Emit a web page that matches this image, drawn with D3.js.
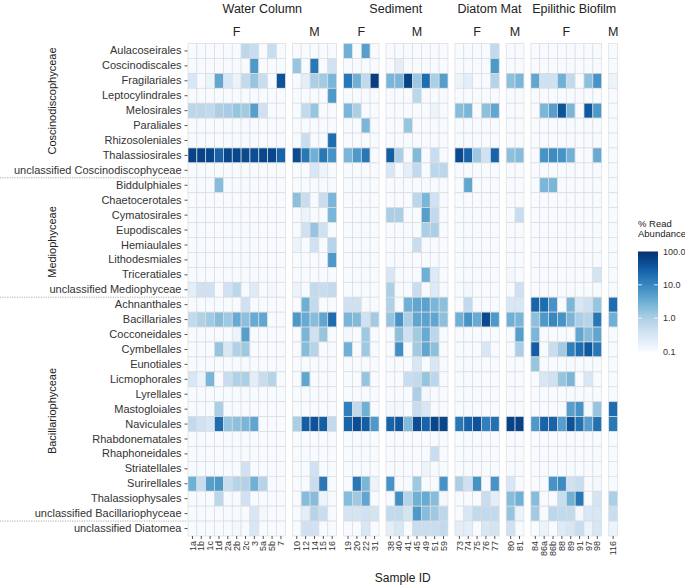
<!DOCTYPE html>
<html><head><meta charset="utf-8">
<script src="https://cdn.jsdelivr.net/npm/d3@7"></script>
<style>body{margin:0;background:#fff} text{font-family:"Liberation Sans",Arial,Helvetica,sans-serif}</style>
</head><body><svg id="c" width="685" height="588"></svg>
<script>
// ---------------- DATA ----------------
const panelHabitat = ["Water Column","Water Column","Sediment","Sediment","Diatom Mat","Diatom Mat","Epilithic Biofilm","Epilithic Biofilm"];
const panelSex = ["F","M","F","M","F","M","F","M"];
const panelSamples = [
  ["1a","1b","1c","1d","2a","2b","2c","3","5a","5b","7"],
  ["10","12","14","15","16"],
  ["19","20","22","31"],
  ["38","40","41","45","49","51","59"],
  ["73","74","75","76","77"],
  ["80","81"],
  ["84","86a","86b","88","89","91","97","98"],
  ["116"]
];
const classes = ["Coscinodiscophyceae","Mediophyceae","Bacillariophyceae"];
const orders = [
  "Aulacoseirales","Coscinodiscales","Fragilariales","Leptocylindrales","Melosirales","Paraliales","Rhizosoleniales","Thalassiosirales","unclassified Coscinodiscophyceae",
  "Biddulphiales","Chaetocerotales","Cymatosirales","Eupodiscales","Hemiaulales","Lithodesmiales","Triceratiales","unclassified Mediophyceae",
  "Achnanthales","Bacillariales","Cocconeidales","Cymbellales","Eunotiales","Licmophorales","Lyrellales","Mastogloiales","Naviculales","Rhabdonematales","Rhaphoneidales","Striatellales","Surirellales","Thalassiophysales","unclassified Bacillariophyceae",
  "unclassified Diatomea"
];
const classFirstOrder = ["Aulacoseirales","Biddulphiales","Achnanthales"];
const classLastOrder = ["unclassified Coscinodiscophyceae","unclassified Mediophyceae","unclassified Bacillariophyceae"];
// % read abundance, one row per order, grouped by panel (WC F | WC M | Sed F | Sed M | DM F | DM M | EB F | EB M)
const abundance = [
  [[0,0,0,0,0,0,0.7,0.5,0,0.5,0],[0,0,0,0,0],[3,0,5,0],[0,0,0,0,0,0,0],[0,0,0,0,0.6],[0,0],[0,0,0,0,0,0,0,0],[0]],
  [[0,0,0,0,0,0,0,6,0,0,0],[1.5,0,15,0,0.4],[0,0,0,0],[0,0.2,0,0,0,0,0],[0,0,0,0,6],[0,0],[0,0,0,0,0,0,0,0],[0]],
  [[0.3,0,0.15,4,0.3,0.15,0.6,1.5,0.5,0,40],[0,0.2,1,1.2,2.5],[15,3,0.6,70],[2.5,2.5,60,1.3,20,1,5],[0.15,0.2,0,0,0.8],[1.8,2.5],[4,0.4,0.4,3,0.6,0,1.8,7],[0.15]],
  [[0,0,0,0,0,0,0,0,0,0,0],[0,0,0,0,6],[0,0,0,0],[0,0,0,0.7,0,0,0],[0,0,0,0,0],[0,0],[0,0,0,0,0,0,0,0],[0]],
  [[0.7,0.7,0.6,1,1.1,1.5,1.2,5,0.4,0,0],[0,0.6,1.5,0,0],[2.5,1,0,0],[0,0,0,0,0.1,0.15,0],[2,2.5,0,1.8,4],[0,0],[0,2.5,5,40,2.5,0,35,6],[0]],
  [[0,0,0,0,0,0,0,0,0,0,0],[0,0,0,0,0],[0,0,2.5,0],[0,0,1.5,0,0,0,0],[0,0,0,0,0],[0,0],[0,0,0,0,0,0,0,0],[0]],
  [[0,0,0,0,0,0,0,0,0,0,0],[0,0.5,0,0,20],[0,0,0,0],[0,0,0,0,0,0,0],[0,0,0,0,0],[0,0],[0,0,0,0,0,0,0,0],[0]],
  [[60,60,55,25,55,55,50,45,55,55,25],[50,15,3,15,7],[2.5,6,15,0],[30,1,0,2.2,0,0.5,0.1],[50,25,1.3,0.4,25],[1.8,2],[0,7,9,7,3,0,0,3.5],[0]],
  [[0,0,0,0,0,0,0,0,0,0,0],[0,0,0.3,0.15,0],[0,0,0,0],[0.3,0,0.2,0.6,0,0.7,0.7],[0,0,0,0,0],[0,0],[0,0,0,0,0,0,0,0],[0]],
  [[0,0,0,2,0,0,0,0,0,0,0],[0,0,0,0,0],[0,0,0,0],[0,0,0,0,0,0,0],[0,4,0,0,0],[0,0],[0,2.5,2.5,0,0,0,0,0],[0]],
  [[0,0,0,0,0,0,0,0,0,0,0],[1.8,0.5,0,0.5,2.5],[0,0,0,0],[0,0,0,0.7,2.5,0.4,0],[0,0,0,0,0],[0,0],[0,0,0,0,0,0,0,0],[0]],
  [[0,0,0,0,0,0,0,0,0,0,0],[0,0.15,0,0,2.5],[0,0,0,0],[1,1,0,0,5,0.6,0],[0,0,0,0,0],[0,0.5],[0,0,0,0,0,0,0,0],[0]],
  [[0,0,0,0,0,0,0,0,0,0,0],[0,0.4,1.5,0.4,0],[0,0,0,0],[0,0,0,0,1,1,0],[0,0,0,0,0],[0,0],[0,0,0,0,0,0,0,0],[0]],
  [[0,0,0,0,0,0,0,0,0,0,0],[0.15,0,0.4,0,0.8],[0,0,0,0],[0,0,0,0.5,0,0,0],[0,0,0,0,0],[0,0],[0,0,0,0,0,0,0,0],[0]],
  [[0,0,0,0,0,0,0,0,0,0,0],[0,0,0,0.1,6],[0,0,0,0],[0,0,0,0,0,0,0],[0,0,0,0,0],[0,0],[0,0,0,0,0,0,0,0],[0]],
  [[0,0,0,0,0,0,0,0,0,0,0],[0,0,0,0,0],[0,0,0,0],[0.3,0,0,0,3,0.25,0],[0,0,0,0,0],[0.12,0],[0,0,0,0,0,0,0,0.35],[0]],
  [[0.2,0.4,0.4,0,0.4,0.7,0,0.25,0,0.12,0],[0.15,0,0.6,0.5,0.6],[0,0,0,0],[1,0,0,0.5,0,0.25,0],[0,0.12,0,0,0],[0,0.4],[0,0.1,0,0,0,0,0,0],[0]],
  [[0,0,0,0,0,0,0.4,0,0,0,0],[0,3,0.6,0,0],[0.4,0.4,0,0],[0.9,0,3,4,4.5,2.5,1.8],[0,0.6,0,0,0],[0.3,0.3],[25,20,7,0,2.5,0.3,0.4,1.5],[20]],
  [[0.6,0.9,1.2,2,1.3,3.5,1.8,3.5,4,0,0],[6,3.5,2,4,20],[2.5,2.2,0.4,1.2],[1.5,7,1,4,4.5,4,1.8],[3,7,3.5,50,6],[3,2.5],[1.8,6,10,7,2.5,1,0.8,15],[3]],
  [[0,0,0,0,0,0.15,5,0,0,0,0],[0,2.5,0.4,1.5,0],[0.12,0,1.3,0],[0,1.8,0.4,1.2,3.5,0.7,0],[0,0,0,0,0],[0,5],[2.5,0,0,0,0,4,2,4],[0]],
  [[0,0,0,1.5,0.3,0.9,1.3,0,0,0,0],[0,2,0.8,0,0],[3,0,1.3,0],[0,8,0,1.2,4,1.8,0],[0,0,0,0.3,0],[0,1],[30,0,0.5,1.2,12,20,35,15],[0]],
  [[0,0,0,0,0,0,0,0,0,0,0],[0,0,0,0,0],[0,0,0,0],[0,0,0,0.3,0,0.3,0],[0,0,0,0,0],[0,0],[1.5,0,0,0,0,0,0,0],[0]],
  [[0.3,0.15,2.5,0,0.5,0.9,1,0.2,0.5,0.8,0],[0,4,0,0,0],[0,0,1.5,0],[0,0,0.5,0.6,1.5,0.7,0],[0,0,0,0,0],[0,0],[0,0.3,0.4,1.5,2.5,0,0.3,0],[0]],
  [[0,0,0,0,0,0,0,0,0,0,0],[0,0,0,0,0],[0,0,0,0],[0,0,0,1,0.12,0,0],[0,0,0,0,0],[0,0],[0,0,0,0,0,0,0,0],[0]],
  [[0,0,0,1,0,0,0,0,0,0,0],[0,0,0,0.1,0],[12,0.6,3,0],[0.12,0.12,0,0.5,0.3,0,0],[0,0,0,0,0],[0,0],[0,0,0,0,5,7,0.12,1.5],[20]],
  [[0.6,0.4,0.3,20,1.5,1.8,2.5,4,0,0,0],[1,30,40,30,0.6],[25,45,30,6],[25,35,2.2,45,25,55,55],[15,25,40,12,18],[60,60],[6,25,25,5,40,18,5,18],[15]],
  [[0,0,0,0,0,0,0,0,0,0,0],[0,0,0,0,0],[0,0,0,0],[0,0,0,0,0,0,0],[0,0,0,0,0],[0,0],[0,0,0,0,0,0,0,0],[0]],
  [[0,0,0,0,0,0,0,0,0,0,0],[0,0,0,0,0],[0,0,0,0],[0,0,0,0,0,0.5,0],[0,0,0,0,0],[0,0],[0,0,0,0,0,0,0,0],[0]],
  [[0,0,0,0,0,0,0.4,0,0,0,0],[0,0,0.4,0,0],[0,0,0,0],[0,0,0,0,0.15,0,0],[0,0,0,0,0],[0,0],[0,0,0,0,0,0,0,0],[0]],
  [[3,0.5,5,6,0.5,0.8,0.9,3,0.8,0,0],[0,0,0.5,15,0],[0,15,2.5,0.15],[7,0,0,1.3,0,0,7],[1,0.4,7,0,7],[0.3,0],[0,0,7,9,0.4,0.5,0,0.12],[0]],
  [[0,0,0,0.7,0,0,0.4,0,0,0,0],[0,2,2,0.15,0],[2,1.3,4,0],[0,8,0.8,3,3.5,2,0.12],[0,0,0,0.5,0.2],[2,3],[2,0,0,0.5,3,15,0,0.35],[1]],
  [[0,0,0,0,0,0,0,0.3,0.12,0,0],[0,0.2,0.8,0.5,0],[0.35,0.35,0.4,0.35],[0.6,0.6,0.35,6,2,1.3,0.7],[0,0.3,0.6,0.6,0.6],[1.5,0.15],[1.2,0,0.7,0.6,0.6,0.12,0.3,0.3],[0.5]],
  [[0,0,0,0,0.1,0.12,0,0.3,0,0,0],[0,0.4,0.4,0,0],[0,0,0.3,0],[0.2,0.3,0,0.5,0.5,0.5,0.6],[0.2,0.2,0,0.3,0.35],[0.4,0],[0,0.15,0,0.25,0.3,0.5,0.15,0.3],[0.15]]
];
const legendTicks = [100, 10, 1, 0.1];
const legendTitle = ["% Read", "Abundance"];
const xTitle = "Sample ID";

// ---------------- LAYOUT ----------------
const svg = d3.select("#c");
const X0 = 188, CELL = 8.85, GAP = 7, TOP = 43.5, BOTTOM = 536;
const textCol = "#333";

const y = d3.scaleBand().domain(orders).range([TOP, BOTTOM]);
const color = d3.scaleSequentialLog(d3.interpolateBlues).domain([0.1, 100]).clamp(true);

let offset = 0;
const panels = panelSamples.map((s, i) => {
  const start = X0 + offset * CELL + i * GAP;
  offset += s.length;
  const xs = d3.scaleBand().domain(s).range([start, start + s.length * CELL]);
  return {i, habitat: panelHabitat[i], sex: panelSex[i], samples: s, x: xs};
});

// cells
panels.forEach(p => {
  const cells = [];
  orders.forEach((o, r) => {
    p.samples.forEach((s, c) => cells.push({o, s, v: abundance[r][p.i][c]}));
  });
  svg.append("g").selectAll("rect").data(cells).join("rect")
    .attr("x", d => p.x(d.s)).attr("y", d => y(d.o))
    .attr("width", p.x.bandwidth()).attr("height", y.bandwidth())
    .attr("fill", d => color(Math.max(d.v, 0.1)))
    .attr("stroke", "#dcdcdc").attr("stroke-width", 0.7);

  // bottom axis
  const ax = svg.append("g").attr("transform", `translate(0,${BOTTOM})`)
    .call(d3.axisBottom(p.x).tickSize(3).tickSizeOuter(0));
  ax.select(".domain").remove();
  ax.selectAll(".tick line").attr("stroke", "#555");
  ax.selectAll(".tick text")
    .attr("transform", "rotate(-90)").attr("text-anchor", "end")
    .attr("x", -5).attr("y", 0).attr("dy", "0.35em")
    .attr("font-size", 9).attr("fill", textCol).style("font-family", '"Liberation Sans",Arial,sans-serif');

  // sex strip
  const r = p.x.range();
  svg.append("text").attr("x", (r[0] + r[1]) / 2).attr("y", 36)
    .attr("text-anchor", "middle").attr("font-size", 12.5).attr("fill", "#222").text(p.sex);
});

// habitat strip
d3.groups(panels, p => p.habitat).forEach(([h, ps]) => {
  const x1 = ps[0].x.range()[0], x2 = ps[ps.length - 1].x.range()[1];
  svg.append("text").attr("x", (x1 + x2) / 2).attr("y", 13)
    .attr("text-anchor", "middle").attr("font-size", 12.5).attr("fill", "#222").text(h);
});

// y axis
const yax = svg.append("g").attr("transform", `translate(${X0 - 0.5},0)`)
  .call(d3.axisLeft(y).tickSize(3).tickPadding(3).tickSizeOuter(0));
yax.select(".domain").remove();
yax.selectAll(".tick line").attr("stroke", "#555");
yax.selectAll(".tick text").attr("font-size", 11).attr("fill", textCol)
  .style("font-family", '"Liberation Sans",Arial,sans-serif');

// class labels and separators
const classCenters = [101, 242, 411];
classes.forEach((c, i) => {
  svg.append("text").attr("transform", `translate(56,${classCenters[i]}) rotate(-90)`)
    .attr("text-anchor", "middle").attr("font-size", 11).attr("fill", "#222").text(c);
  const yb = y(classLastOrder[i]) + y.bandwidth();
  svg.append("line").attr("x1", 0).attr("x2", X0 - 2).attr("y1", yb).attr("y2", yb)
    .attr("stroke", "#999").attr("stroke-width", 0.8).attr("stroke-dasharray", "1.2,1.2");
});

// x title
svg.append("text").attr("x", (X0 + panels[7].x.range()[1]) / 2).attr("y", 582)
  .attr("text-anchor", "middle").attr("font-size", 12).attr("fill", "#222").text(xTitle);

// legend
const LX = 638, LW = 20, LT = 251.5, LB = 351.5;
const ly = d3.scaleLog().domain([0.1, 100]).range([LB, LT]);
const grad = svg.append("defs").append("linearGradient").attr("id", "lg")
  .attr("x1", 0).attr("y1", 1).attr("x2", 0).attr("y2", 0);
d3.range(0, 1.0001, 0.05).forEach(t => {
  const v = ly.invert(LB - t * (LB - LT));
  grad.append("stop").attr("offset", t).attr("stop-color", color(v));
});
svg.append("rect").attr("x", LX).attr("y", LT).attr("width", LW).attr("height", LB - LT).attr("fill", "url(#lg)");
legendTicks.forEach(v => {
  const yy = ly(v);
  if (v !== 100 && v !== 0.1) {
    svg.append("line").attr("x1", LX).attr("x2", LX + 4).attr("y1", yy).attr("y2", yy).attr("stroke", "#fff").attr("stroke-width", 0.8);
    svg.append("line").attr("x1", LX + LW - 4).attr("x2", LX + LW).attr("y1", yy).attr("y2", yy).attr("stroke", "#fff").attr("stroke-width", 0.8);
  }
  svg.append("text").attr("x", LX + LW + 5).attr("y", yy).attr("dy", "0.35em")
    .attr("font-size", 9).attr("fill", textCol).text(d3.format(".1f")(v));
});
legendTitle.forEach((t, i) => {
  svg.append("text").attr("x", LX).attr("y", 227 + i * 10).attr("font-size", 9.5).attr("fill", "#222").text(t);
});
</script></body></html>
